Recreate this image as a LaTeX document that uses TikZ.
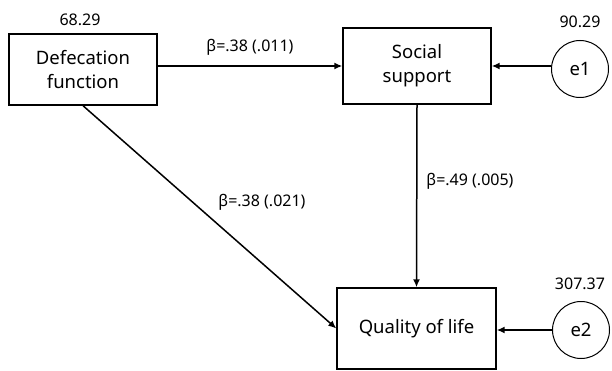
\documentclass[tikz,border=0pt]{standalone}
\usepackage{fontspec}
\setmainfont{Noto Sans}
\usepackage{tikz}
\usetikzlibrary{arrows.meta, positioning}

\tikzset{
  var/.style={draw, line width=1.4pt, rectangle, align=center, font=\fontsize{18.5}{24}\selectfont},
  err/.style={draw, line width=1pt, circle, minimum size=57pt, inner sep=0pt, font=\fontsize{18.5}{24}\selectfont},
  path/.style={line width=1.5pt, -{Latex[length=8pt, width=7pt]}},
  coef/.style={font=\fontsize{16}{19}\selectfont},
}

\begin{document}
\begin{tikzpicture}[x=1pt, y=-1pt]
		\useasboundingbox (0,0) rectangle (612,371);
		% Variables observadas
		\node[var, minimum width=148pt, minimum height=71pt] (def) at (83,69.5) {Defecation\\function};
		\node[var, minimum width=148pt, minimum height=76pt] (soc) at (417,66) {Social\\support};
		\node[var, minimum width=159pt, minimum height=81pt] (qol) at (416.5,328.5) {Quality of life};
		% Errores
		\node[err] (e1) at (580,69) {e1};
		\node[err] (e2) at (581,330) {e2};
		% Varianzas
		\node[coef] (vdef) at (80,20) {68.29};
		\node[coef] (ve1) at (580,22) {90.29};
		\node[coef] (ve2) at (580,284) {307.37};
		% Caminos
		\draw[path] (soc.west -| def.east) -- (soc.west);
		\draw[path] (def.south) -- (qol.west);
		\draw[path] (soc.south) -- (qol.north);
		\draw[path] (e1.west |- soc.east) -- (soc.east);
		\draw[path] (e2.west) -- (e2.west -| qol.east);
		% Coeficientes
		\node[coef] (b1) at (250,47) {β=.38 (.011)};
		\node[coef] (b2) at (262,202) {β=.38 (.021)};
		\node[coef] (b3) at (470,181) {β=.49 (.005)};
	\end{tikzpicture}
\end{document}
